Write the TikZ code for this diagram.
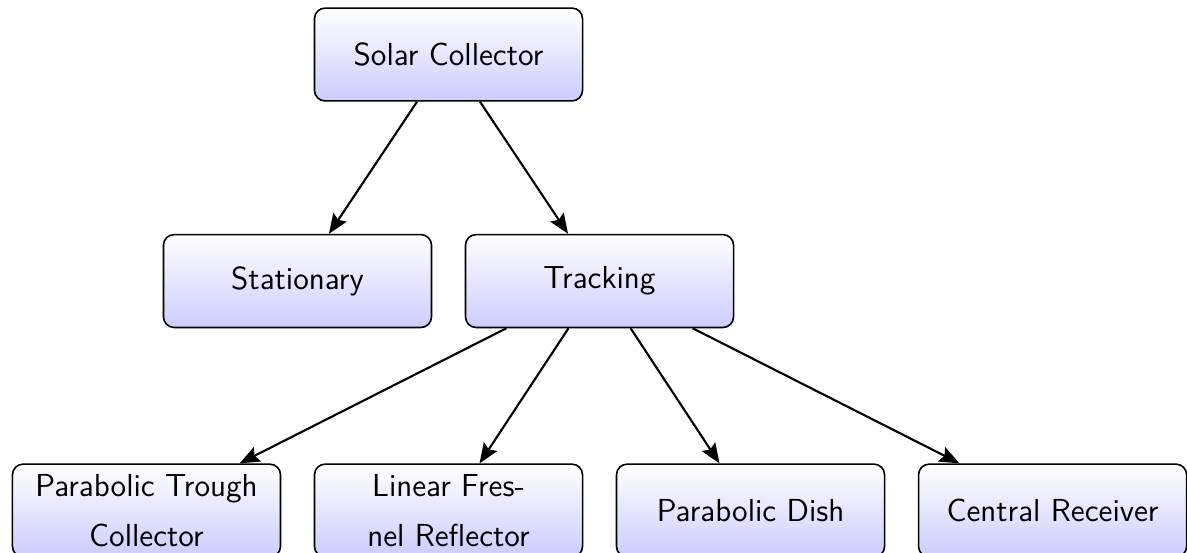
\documentclass[tikz,border=0pt]{standalone}
\usetikzlibrary{arrows.meta}

\begin{document}
\begin{tikzpicture}[->,>={Stealth[length=7.5pt,width=6pt,inset=1.2pt]},thick,
    box/.style={draw=black,semithick,rounded corners=4pt,top color=white,bottom color=blue!20,
        minimum width=3.55cm,minimum height=1.23cm,inner sep=1pt,align=center,
        font=\sffamily\fontsize{12}{18.5}\selectfont}]

    \clip (-5.94,0.722) rectangle (9.78,-6.60);

    \node[box] (sc)                 {Solar Collector};
    \node[box] (stat)  at (-2,-3)   {Stationary};
    \node[box] (track) at (2,-3)    {Tracking};
    \node[box] (ptc)   at (-4,-6.04) {Parabolic Trough\\Collector};
    \node[box] (lfr)   at (0,-6.04)  {Linear Fres-\\nel Reflector};
    \node[box] (pd)    at (4,-6.04)  {Parabolic Dish};
    \node[box] (cr)    at (8,-6.04)  {Central Receiver};

    \path
    (sc) edge (stat)
    (sc) edge (track)
    (track) edge (ptc)
    (track) edge (lfr)
    (track) edge (pd)
    (track) edge (cr);
\end{tikzpicture}
\end{document}
